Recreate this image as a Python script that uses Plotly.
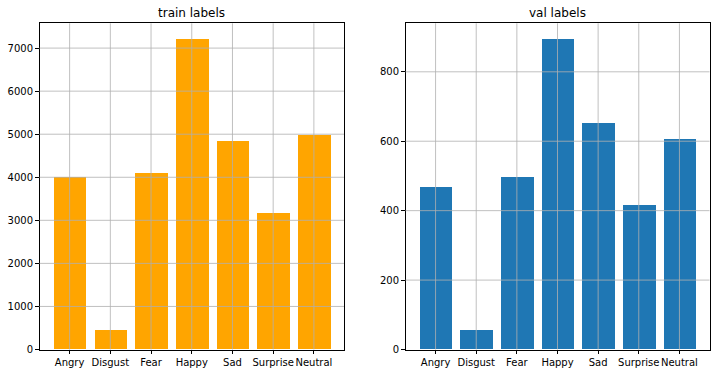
import plotly.graph_objects as go

categories = ["Angry", "Disgust", "Fear", "Happy", "Sad", "Surprise", "Neutral"]
train_counts = [3995, 436, 4097, 7215, 4830, 3171, 4965]
val_counts = [467, 56, 496, 895, 653, 415, 607]
train_yticks = [0, 1000, 2000, 3000, 4000, 5000, 6000, 7000]
val_yticks = [0, 200, 400, 600, 800]

W, H = 716, 373

def px_x(p):
    return p / W

def px_y(p):
    return 1 - p / H

fig = go.Figure()
fig.add_trace(go.Bar(x=list(range(len(categories))), y=train_counts, marker_color="#FFA500",
                     marker_line_width=0, width=0.8, xaxis="x", yaxis="y", showlegend=False))
fig.add_trace(go.Bar(x=list(range(len(categories))), y=val_counts, marker_color="#1f77b4",
                     marker_line_width=0, width=0.8, xaxis="x2", yaxis="y2", showlegend=False))

font = dict(family="DejaVu Sans", size=10, color="#000000")
ydom = [px_y(349.5), px_y(23.3)]
xdom1 = [px_x(39.5), px_x(344)]
xdom2 = [px_x(405.5), px_x(709.5)]

def xaxis(dom, anchor):
    return dict(domain=dom, anchor=anchor, range=[-0.74, 6.74], tickmode="array",
                tickvals=list(range(len(categories))), ticktext=categories, tickangle=0,
                showgrid=False, zeroline=False, showline=True, linecolor="#000000", linewidth=1,
                mirror=True, ticks="outside", ticklen=3.5, tickwidth=0.8, tickcolor="#000000",
                tickfont=font, automargin=False)

def yaxis(dom, anchor, rng, tv):
    return dict(domain=dom, anchor=anchor, range=rng, tickmode="array", tickvals=tv,
                showgrid=False, zeroline=False, showline=True, linecolor="#000000", linewidth=1,
                mirror=True, ticks="outside", ticklen=3.5, tickwidth=0.8, tickcolor="#000000",
                tickfont=font, automargin=False)

train_max = max(train_counts) * 1.05
val_max = max(val_counts) * 1.05

shapes = []
grid = dict(color="#b0b0b0", width=0.8)
for xr, yr, tv in [("x", "y", train_yticks), ("x2", "y2", val_yticks)]:
    for v in tv[1:]:
        shapes.append(dict(type="line", xref=xr + " domain", yref=yr, x0=0, x1=1, y0=v, y1=v,
                           line=grid, layer="above"))
    for i in range(len(categories)):
        shapes.append(dict(type="line", xref=xr, yref=yr + " domain", x0=i, x1=i, y0=0, y1=1,
                           line=grid, layer="above"))

title_font = dict(family="DejaVu Sans", size=12, color="#000000")
fig.update_layout(
    width=W, height=H, margin=dict(l=0, r=0, t=0, b=0, pad=0),
    paper_bgcolor="white", plot_bgcolor="white", bargap=0,
    xaxis=xaxis(xdom1, "y"), yaxis=yaxis(ydom, "x", [0, train_max], train_yticks),
    xaxis2=xaxis(xdom2, "y2"), yaxis2=yaxis(ydom, "x2", [0, val_max], val_yticks),
    shapes=shapes,
    annotations=[
        dict(text="train labels", xref="paper", yref="paper", x=(xdom1[0] + xdom1[1]) / 2,
             y=px_y(12.5), xanchor="center", yanchor="middle", showarrow=False, font=title_font),
        dict(text="val labels", xref="paper", yref="paper", x=(xdom2[0] + xdom2[1]) / 2,
             y=px_y(12.5), xanchor="center", yanchor="middle", showarrow=False, font=title_font),
    ],
)
fig.write_html("out.html", config={"displayModeBar": False},
               post_script="document.body.style.margin='0';")
